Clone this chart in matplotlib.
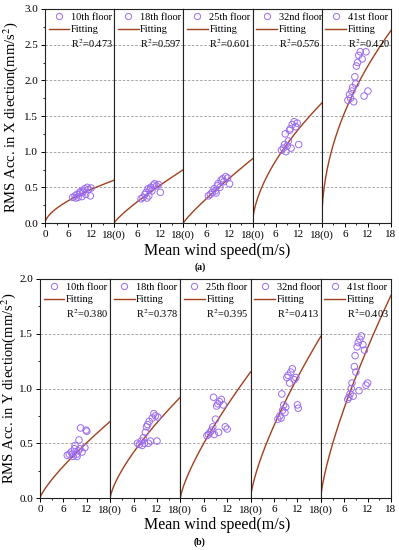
import numpy as np
import matplotlib.pyplot as plt
from matplotlib.lines import Line2D

plt.rcParams['font.family'] = ['Liberation Serif', 'DejaVu Serif']
plt.rcParams['mathtext.fontset'] = 'stix'

floors = ["10th floor", "18th floor", "25th floor", "32nd floor", "41st floor"]
r2_x = ["0.473", "0.597", "0.601", "0.576", "0.420"]
r2_y = ["0.380", "0.378", "0.395", "0.413", "0.403"]

# fitted power law acc = a * v^b
fit_x_a = [0.106, 0.066, 0.0708, 0.297, 0.636]
fit_x_b = [0.60, 0.84, 0.88, 0.60, 0.50]
fit_y_a = [0.0693, 0.115, 0.128, 0.179, 0.218]
fit_y_b = [0.80, 0.72, 0.76, 0.73, 0.74]

# (a) X direction
speed_x = [
    [7.2, 7.8, 8.3, 8.6, 9.0, 9.2, 9.6, 10.0, 10.3, 10.6, 11.0, 11.3, 11.8, 12.0, 8.0, 9.8],
    [7.0, 7.5, 8.0, 8.3, 8.8, 9.0, 9.5, 9.8, 10.2, 10.5, 11.0, 11.5, 12.0, 8.5, 9.3],
    [6.5, 7.0, 7.5, 8.0, 8.3, 8.8, 9.0, 9.5, 9.8, 10.2, 10.5, 11.0, 11.5, 12.0, 8.5],
    [7.5, 8.0, 8.3, 8.7, 9.0, 9.3, 9.6, 10.0, 10.3, 10.8, 11.2, 11.6, 12.0, 8.5, 9.8],
    [6.8, 7.2, 7.5, 7.8, 8.0, 8.3, 8.6, 9.0, 9.3, 9.6, 10.0, 10.5, 11.0, 11.5, 12.0, 8.8],
]
acc_x = [
    [0.36, 0.38, 0.40, 0.36, 0.42, 0.44, 0.37, 0.45, 0.48, 0.40, 0.50, 0.47, 0.38, 0.49, 0.35, 0.43],
    [0.34, 0.36, 0.40, 0.43, 0.48, 0.38, 0.50, 0.45, 0.53, 0.55, 0.52, 0.54, 0.43, 0.35, 0.47],
    [0.38, 0.40, 0.43, 0.48, 0.45, 0.52, 0.55, 0.50, 0.60, 0.62, 0.58, 0.65, 0.63, 0.55, 0.42],
    [1.02, 1.05, 1.10, 1.00, 1.08, 1.15, 1.30, 1.05, 1.38, 1.42, 1.35, 1.40, 1.10, 1.25, 1.32],
    [1.72, 1.80, 1.75, 1.85, 1.90, 1.70, 2.05, 2.20, 2.25, 2.35, 2.40, 2.30, 1.78, 2.40, 1.85, 1.95],
]

# (b) Y direction
speed_y = [
    [7.0, 7.5, 8.0, 8.5, 8.8, 9.0, 9.4, 9.8, 10.0, 10.4, 10.8, 11.5, 11.8, 12.0, 8.3, 9.5, 10.2],
    [7.0, 7.5, 8.0, 8.2, 8.5, 8.8, 9.0, 9.3, 9.6, 10.0, 10.3, 10.8, 11.2, 11.6, 12.0, 12.2, 9.8],
    [6.8, 7.2, 7.6, 8.0, 8.3, 8.7, 9.0, 9.3, 9.6, 10.0, 10.5, 11.0, 11.5, 12.0, 8.5, 9.8],
    [7.0, 7.5, 7.8, 8.2, 8.5, 8.8, 9.0, 9.3, 9.6, 10.0, 10.3, 10.7, 11.2, 11.6, 12.0, 12.2, 8.0],
    [6.9, 7.2, 7.5, 7.8, 8.0, 8.3, 8.6, 9.0, 9.3, 9.6, 10.0, 10.4, 10.8, 11.2, 11.6, 12.0, 8.8, 9.8],
]
acc_y = [
    [0.39, 0.40, 0.42, 0.38, 0.45, 0.48, 0.40, 0.43, 0.53, 0.64, 0.42, 0.46, 0.62, 0.61, 0.40, 0.38, 0.45],
    [0.50, 0.49, 0.52, 0.48, 0.55, 0.50, 0.60, 0.65, 0.67, 0.70, 0.52, 0.73, 0.77, 0.75, 0.52, 0.74, 0.50],
    [0.57, 0.58, 0.60, 0.62, 0.65, 0.58, 0.72, 0.84, 0.86, 0.88, 0.90, 0.85, 0.65, 0.63, 0.92, 0.60],
    [0.72, 0.75, 0.73, 0.80, 0.85, 0.78, 0.83, 1.10, 1.12, 1.05, 1.15, 1.18, 1.08, 1.10, 0.85, 0.82, 0.95],
    [0.90, 0.92, 0.95, 1.00, 1.05, 0.93, 1.20, 1.15, 1.38, 1.42, 1.45, 1.48, 1.40, 1.35, 1.03, 1.05, 1.30, 0.98],
]

PURPLE = "#9b6cf0"
BROWN = "#a0401e"


def draw_panel(fig, rect, speeds, accs, fa, fb, r2s, ymax):
    left, bottom, width, height = rect
    w = width / 5
    axes = []
    for i in range(5):
        ax = fig.add_axes([left + i * w, bottom, w, height])
        v = np.linspace(0, 18, 200)
        ax.plot(v, fa[i] * v ** fb[i], color=BROWN, lw=1.0, zorder=2)
        ax.scatter(speeds[i], accs[i], s=22, facecolors='none',
                   edgecolors=PURPLE, linewidths=0.7, zorder=3)
        ax.set_xlim(0, 18)
        ax.set_ylim(0, ymax)
        ax.set_yticks(np.arange(0, ymax + 0.01, 0.5))
        ax.set_yticks(np.arange(0, ymax + 0.01, 0.25), minor=True)
        ax.yaxis.grid(True, ls=(0, (3, 2)), color='#999999', lw=0.6)
        ax.set_axisbelow(True)
        ax.set_xticks([0, 6, 12, 18])
        ax.set_xticks([3, 9, 15], minor=True)
        labs = ["0" if i == 0 else "", "6", "12", "18" if i == 4 else "18(0)"]
        ax.set_xticklabels(labs)
        ax.tick_params(which='both', direction='out', labelsize=8, pad=2)
        ax.tick_params(which='major', length=3, width=0.7)
        ax.tick_params(which='minor', length=1.5, width=0.6)
        if i == 0:
            ax.set_yticklabels([f"{t:.1f}" for t in np.arange(0, ymax + 0.01, 0.5)])
        else:
            ax.tick_params(axis='y', which='both', left=False, labelleft=False)
        for sp in ax.spines.values():
            sp.set_linewidth(0.8)
            sp.set_color('#222222')
        handles = [
            Line2D([], [], marker='o', ls='none', markersize=4.5,
                   markerfacecolor='none', markeredgecolor=PURPLE, markeredgewidth=0.7),
            Line2D([], [], color=BROWN, lw=1.0),
            Line2D([], [], ls='none'),
        ]
        ax.legend(handles, [floors[i], "Fitting", "R$^2$=" + r2s[i]],
                  loc='upper left', frameon=False, fontsize=7.5,
                  handlelength=2.0, handletextpad=0.15, labelspacing=0.3,
                  borderaxespad=0.15, borderpad=0.2)
        axes.append(ax)
    return axes


fig = plt.figure(figsize=(3.99, 5.5), dpi=100)

draw_panel(fig, [45 / 399, 1 - 223 / 550, 346 / 399, 214 / 550],
           speed_x, acc_x, fit_x_a, fit_x_b, r2_x, 3.0)
draw_panel(fig, [40 / 399, 1 - 498 / 550, 351 / 399, 219 / 550],
           speed_y, acc_y, fit_y_a, fit_y_b, r2_y, 2.0)

fig.text(0.026, 1 - 117 / 550, "RMS Acc. in X diection(mm/s$^2$)", rotation=90,
         ha='center', va='center', fontsize=10.5)
fig.text(0.022, 1 - 388 / 550, "RMS Acc. in Y diection(mm/s$^2$)", rotation=90,
         ha='center', va='center', fontsize=10.5)
fig.text(217 / 399, 1 - 251 / 550, "Mean wind speed(m/s)", ha='center', va='center', fontsize=11.5)
fig.text(217 / 399, 1 - 525 / 550, "Mean wind speed(m/s)", ha='center', va='center', fontsize=11.5)
fig.text(200 / 399, 1 - 267 / 550, "(a)", ha='center', va='center', fontsize=7, fontweight='bold')
fig.text(200 / 399, 1 - 542 / 550, "(b)", ha='center', va='center', fontsize=7, fontweight='bold')

fig.savefig("out.png", dpi=100)
